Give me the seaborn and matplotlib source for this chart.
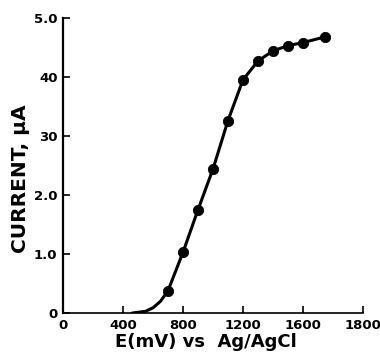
import numpy as np
import pandas as pd
import matplotlib
matplotlib.use("Agg")
import matplotlib.pyplot as plt
import seaborn as sns

# measured points (mV vs current in uA)
potential = [700, 800, 900, 1000, 1100, 1200, 1300, 1400, 1500, 1600, 1750]
current = [0.38, 1.03, 1.75, 2.44, 3.26, 3.95, 4.27, 4.44, 4.53, 4.58, 4.68]

# foot of the hand-drawn curve
foot_potential = [460, 550, 600, 650]
foot_current = [0.0, 0.03, 0.09, 0.2]

xticks = [0, 400, 800, 1200, 1600, 2000]
xtick_labels = ["0", "400", "800", "1200", "1600", "1800"]
yticks = [0, 1, 2, 3, 4, 5]
ytick_labels = ["0", "1.0", "2.0", "30", "40", "5.0"]

pts = pd.DataFrame({"E": potential, "I": current})
curve = pd.DataFrame({"E": foot_potential + potential, "I": foot_current + current})

sns.set_style("ticks", {"xtick.direction": "in", "ytick.direction": "in",
                        "text.color": "black", "axes.labelcolor": "black",
                        "xtick.color": "black", "ytick.color": "black",
                        "axes.edgecolor": "black"})
plt.rcParams["font.family"] = ["DejaVu Sans"]
plt.rcParams["font.weight"] = "bold"

fig = plt.figure(figsize=(3.8, 3.57), dpi=100)
ax = fig.add_axes([0.166, 0.123, 0.789, 0.827])

sns.lineplot(data=curve, x="E", y="I", color="black", linewidth=2.2, ax=ax)
sns.scatterplot(data=pts, x="E", y="I", color="black", s=55, edgecolor="black", ax=ax, zorder=3)

ax.set_xlim(0, 2000)
ax.set_ylim(0, 5)
ax.set_xticks(xticks)
ax.set_xticklabels(xtick_labels, fontsize=9.5, fontweight="bold")
ax.set_yticks(yticks)
ax.set_yticklabels(ytick_labels, fontsize=9.5, fontweight="bold")
ax.tick_params(axis="both", which="major", direction="in", length=5, width=1.2, pad=4, colors="black")

sns.despine(ax=ax)
ax.spines["left"].set_linewidth(1.6)
ax.spines["bottom"].set_linewidth(1.2)
ax.spines["bottom"].set_linestyle((0, (4, 1)))

ax.set_xlabel("E(mV) vs  Ag/AgCl", fontsize=13, fontweight="bold", color="black")
ax.set_ylabel("CURRENT, \u03bcA", fontsize=14.5, fontweight="bold", color="black")
ax.xaxis.set_label_coords(0.475, -0.068)
ax.yaxis.set_label_coords(-0.11, 0.455)

fig.savefig("out.png", dpi=100)
